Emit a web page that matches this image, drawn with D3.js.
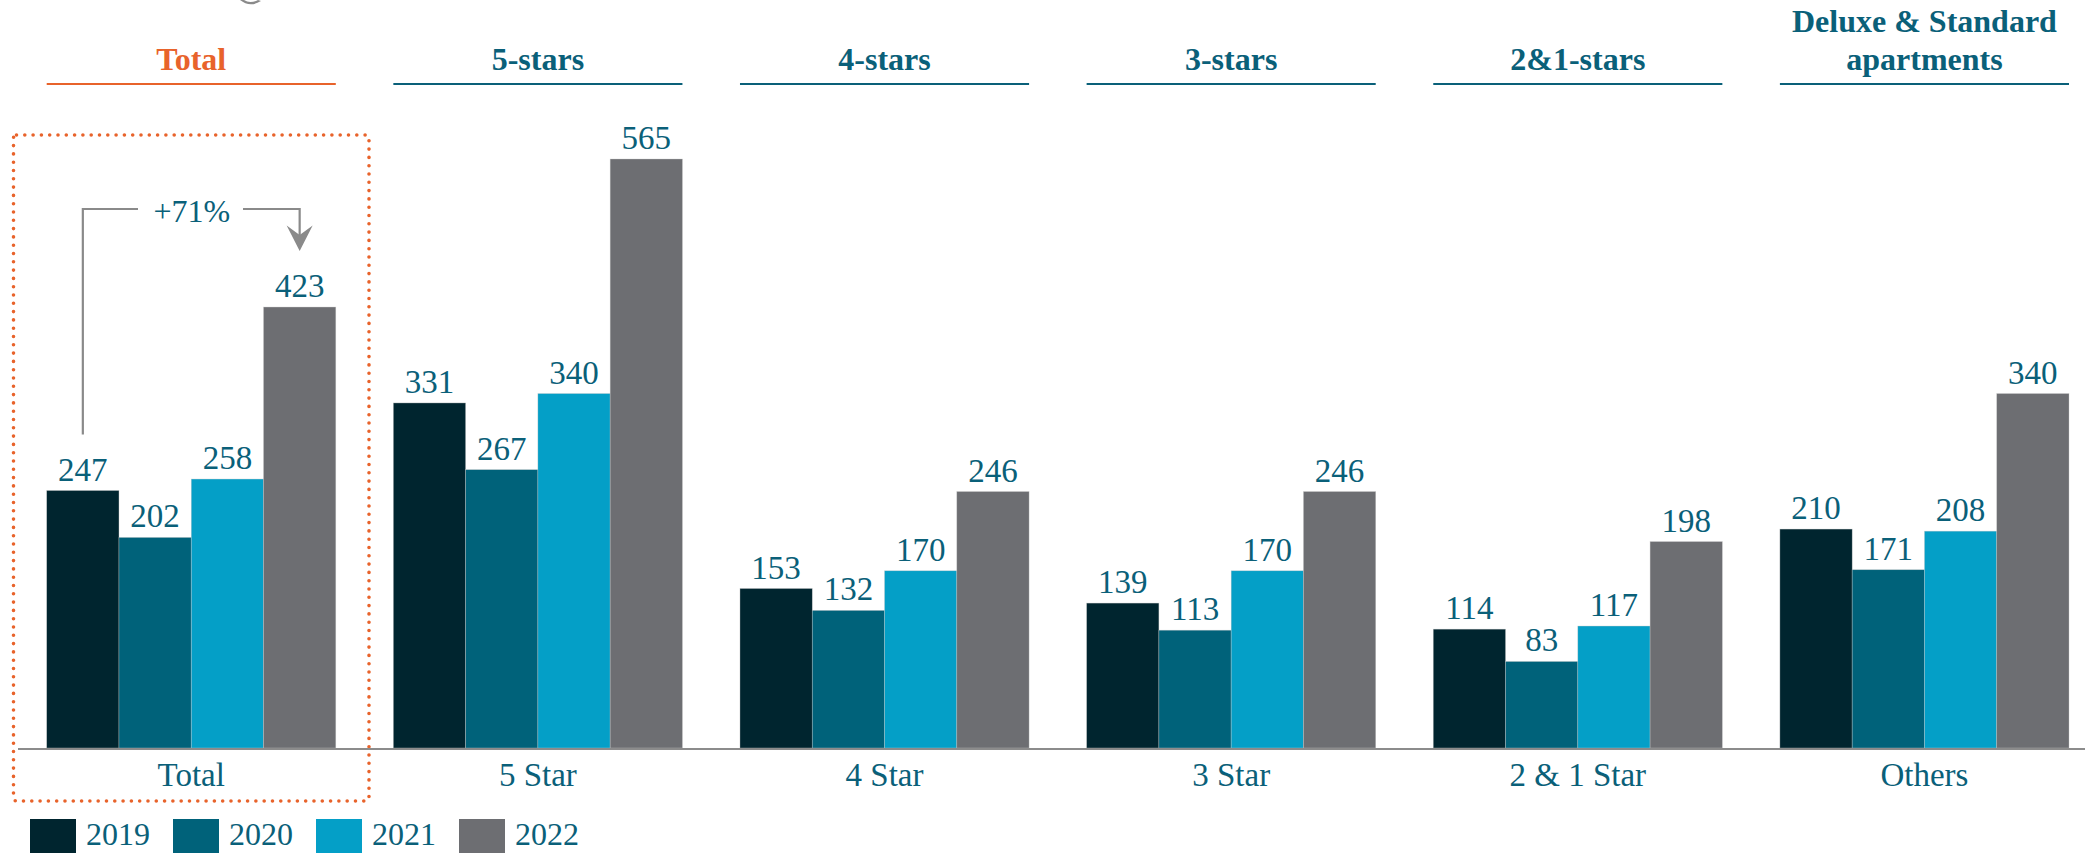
<!DOCTYPE html>
<html><head><meta charset="utf-8">
<script src="https://cdn.jsdelivr.net/npm/d3@7"></script>
<style>html,body{margin:0;padding:0;background:#fff;overflow:hidden}</style>
</head><body><svg id="c" width="2085" height="853"></svg>
<script>
const categories = ["Total","5 Star","4 Star","3 Star","2 & 1 Star","Others"];
const headers = [["Total"],["5-stars"],["4-stars"],["3-stars"],["2&1-stars"],["Deluxe & Standard","apartments"]];
const years = ["2019","2020","2021","2022"];
const v2019 = [247,331,153,139,114,210];
const v2020 = [202,267,132,113,83,171];
const v2021 = [258,340,170,170,117,208];
const v2022 = [423,565,246,246,198,340];
const series = [v2019,v2020,v2021,v2022];
const colors = ["#00252f","#00627a","#049fc7","#6d6e72"];
const annotation = "+71%";

const FONT = "'Liberation Serif','DejaVu Serif',serif";
const TEAL = "#0a6079", ORANGE = "#e8632b";
const svg = d3.select("#c");

const x0 = d3.scaleBand().domain(categories).range([46.7, 2069]).paddingInner(0.166).paddingOuter(0);
const x1 = d3.scaleBand().domain(years).range([0, x0.bandwidth()]);
const y = d3.scaleLinear().domain([0, 565]).range([748, 159]);

// top cut-off decoration
svg.append("path").attr("d","M240,0 Q250,8 261,1 L258,0 Q250,4 244,0 Z").attr("fill","#8a8a8a");

// headers
categories.forEach((c,i)=>{
  const cx = x0(c) + x0.bandwidth()/2;
  const col = i===0 ? ORANGE : TEAL;
  const lines = headers[i];
  lines.forEach((t,j)=>{
    svg.append("text").attr("x",cx).attr("y",70 - (lines.length-1-j)*38)
      .attr("text-anchor","middle").attr("font-family",FONT).attr("font-weight","bold")
      .attr("font-size",32).attr("fill",col).text(t);
  });
  svg.append("line").attr("x1",x0(c)).attr("x2",x0(c)+x0.bandwidth()).attr("y1",84).attr("y2",84)
    .attr("stroke",col).attr("stroke-width",2.2);
});

// dotted box
svg.append("rect").attr("x",13.5).attr("y",135).attr("width",355.5).attr("height",666).attr("rx",3)
  .attr("fill","none").attr("stroke",ORANGE).attr("stroke-width",3.6)
  .attr("stroke-dasharray","0 8.3").attr("stroke-linecap","round");

// bars
const g = svg.append("g");
categories.forEach((c,i)=>{
  years.forEach((yr,k)=>{
    const v = series[k][i];
    const bx = x0(c)+x1(yr);
    g.append("rect").attr("x",bx).attr("y",y(v)).attr("width",x1.bandwidth()).attr("height",y(0)-y(v))
      .attr("fill",colors[k]).attr("stroke","#c8c8c8").attr("stroke-width",0.6).attr("stroke-opacity",0.6);
    g.append("text").attr("x",bx+x1.bandwidth()/2).attr("y",y(v)-10).attr("text-anchor","middle")
      .attr("font-family",FONT).attr("font-size",33).attr("fill",TEAL).text(v);
  });
});

// baseline
svg.append("line").attr("x1",18).attr("x2",2085).attr("y1",y(0)+1).attr("y2",y(0)+1)
  .attr("stroke","#8c8c8c").attr("stroke-width",2.2);

// category axis
const ax = svg.append("g").attr("transform",`translate(0,${y(0)})`)
  .call(d3.axisBottom(x0).tickSize(0).tickPadding(15));
ax.select(".domain").remove();
ax.selectAll("text").attr("font-family",FONT).attr("font-size",33).attr("fill",TEAL);

// annotation bracket
const xa = x0("Total")+x1("2019")+x1.bandwidth()/2;
const xb = x0("Total")+x1("2022")+x1.bandwidth()/2;
const ya = y(v2019[0])-56, yt = 209;
const gray = "#8a8a8a";
svg.append("path").attr("d",`M${xa},${ya} V${yt} H138`).attr("fill","none").attr("stroke",gray).attr("stroke-width",2.2);
svg.append("path").attr("d",`M243,${yt} H${xb} V${yt+28}`).attr("fill","none").attr("stroke",gray).attr("stroke-width",2.2);
svg.append("path").attr("d",`M${xb-13},${yt+16.5} L${xb},${yt+26} L${xb+13},${yt+16.5} L${xb},${yt+42} Z`).attr("fill",gray);
svg.append("text").attr("x",(xa+xb)/2+0.5).attr("y",221.5).attr("text-anchor","middle")
  .attr("font-family",FONT).attr("font-size",32).attr("fill",TEAL).text(annotation);

// legend
const lg = svg.append("g");
years.forEach((yr,k)=>{
  const lx = 30 + k*143;
  lg.append("rect").attr("x",lx).attr("y",819).attr("width",46).attr("height",40).attr("fill",colors[k]);
  lg.append("text").attr("x",lx+56).attr("y",845).attr("font-family",FONT).attr("font-size",32)
    .attr("fill",TEAL).text(yr);
});
</script></body></html>
